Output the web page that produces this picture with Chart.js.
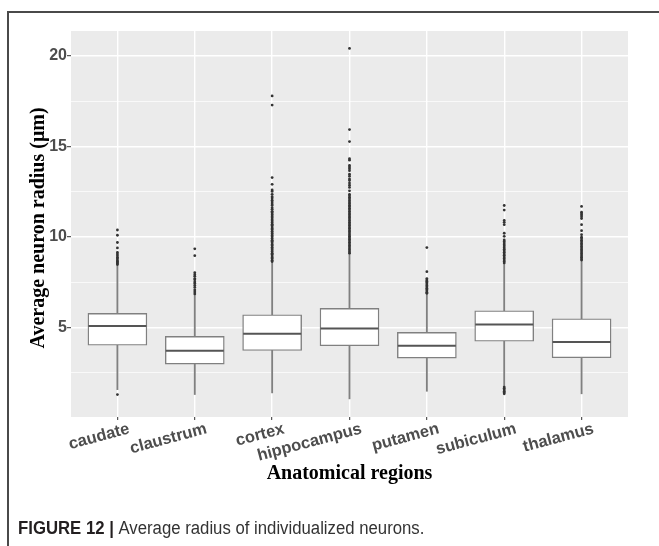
<!DOCTYPE html>
<html>
<head>
<meta charset="utf-8">
<script src="https://cdn.jsdelivr.net/npm/chart.js@4"></script>
<style>
html,body{margin:0;padding:0;background:#fff;}
#wrap{position:relative;width:659px;height:546px;}
</style>
</head>
<body>
<div id="wrap"><canvas id="c"></canvas></div>
<script>
// ---------- data ----------
const categories = ['caudate','claustrum','cortex','hippocampus','putamen','subiculum','thalamus'];
const whiskerLow  = [1.58, 1.31, 1.40, 1.07, 1.49, 1.77, 1.35];
const q1          = [4.03, 2.99, 3.74, 4.00, 3.32, 4.25, 3.34];
const median      = [5.09, 3.72, 4.67, 4.95, 4.00, 5.18, 4.21];
const q3          = [5.79, 4.52, 5.71, 6.06, 4.74, 5.93, 5.49];
const whiskerHigh = [8.44, 6.79, 8.62, 9.08, 6.88, 8.53, 8.71];

const caudateOut = [10.39, 10.10, 9.70, 9.40, 9.15, 9.06, 8.97, 8.88, 8.81, 8.73, 8.67, 8.60, 8.54, 8.48, 1.31];
const claustrumOut = [9.35, 8.97, 8.03, 7.92, 7.83, 7.71, 7.64, 7.52, 7.44, 7.33, 7.22, 7.08, 6.97, 6.86];
const cortexOut = [17.79, 17.28, 13.28, 12.91, 12.60, 12.52, 12.36, 12.23, 12.15, 12.03, 11.94, 11.83, 11.74, 11.61, 11.53, 11.42,
  11.36, 11.27, 11.21, 11.12, 11.05, 10.95, 10.89, 10.80, 10.71, 10.65, 10.56, 10.47, 10.41, 10.32, 10.23, 10.17, 10.08,
  10.01, 9.92, 9.83, 9.77, 9.68, 9.59, 9.53, 9.44, 9.35, 9.29, 9.20, 9.11, 9.05, 8.96, 8.87, 8.81, 8.72, 8.65];
const hippocampusOut = [20.41, 15.93, 15.27, 14.32, 14.24, 13.95, 13.86, 13.77, 13.66, 13.47, 13.36, 13.21, 13.12, 12.98,
  12.86, 12.74, 12.55, 12.36, 12.28, 12.19, 12.11, 12.02, 11.93, 11.85, 11.76, 11.68, 11.59, 11.51, 11.42, 11.33, 11.25,
  11.16, 11.08, 10.99, 10.91, 10.82, 10.73, 10.65, 10.56, 10.48, 10.39, 10.31, 10.22, 10.13, 10.05, 9.96, 9.88, 9.79,
  9.71, 9.62, 9.53, 9.45, 9.36, 9.28, 9.19, 9.11];
const putamenOut = [9.42, 8.09, 7.71, 7.63, 7.56, 7.49, 7.41, 7.33, 7.26, 7.18, 7.11, 7.03, 6.96, 6.90];
const subiculumOut = [11.74, 11.49, 10.92, 10.81, 10.68, 10.21, 10.04, 9.84, 9.76, 9.67, 9.58, 9.50, 9.41, 9.33, 9.24,
  9.16, 9.07, 8.99, 8.90, 8.82, 8.73, 8.65, 8.57, 1.72, 1.65, 1.57, 1.49, 1.42, 1.35];
const thalamusOut = [11.69, 11.37, 11.29, 11.21, 11.12, 11.02, 10.68, 10.35, 10.13, 9.99, 9.91, 9.82, 9.74, 9.65, 9.57,
  9.48, 9.40, 9.31, 9.23, 9.14, 9.06, 8.97, 8.89, 8.80, 8.73];
const outliers = [caudateOut, claustrumOut, cortexOut, hippocampusOut, putamenOut, subiculumOut, thalamusOut];

const yTicks = [2.5, 5, 7.5, 10, 12.5, 15, 17.5, 20];
const yLabelTicks = [5, 10, 15, 20];

const xTitle = 'Anatomical regions';
const yTitle = 'Average neuron radius (\u03bcm)';
const captionBold = 'FIGURE 12 | ';
const captionText = 'Average radius of individualized neurons.';

// ---------- chart ----------
const panelBg = {
  id: 'panelBg',
  beforeDraw(chart) {
    const {ctx, chartArea: a} = chart;
    ctx.save();
    ctx.fillStyle = '#ebebeb';
    ctx.fillRect(a.left, a.top, a.right - a.left, a.bottom - a.top);
    ctx.restore();
  }
};

const decorations = {
  id: 'decorations',
  afterDraw(chart) {
    const {ctx, chartArea: a} = chart;
    const xs = chart.scales.x;
    ctx.save();
    // x tick labels, rotated 15 degrees
    ctx.font = 'bold 16.5px "Liberation Sans", Arial, sans-serif';
    ctx.fillStyle = '#4d4d4d';
    ctx.textAlign = 'right';
    ctx.textBaseline = 'alphabetic';
    categories.forEach((c, i) => {
      const px = xs.getPixelForValue(i);
      ctx.save();
      ctx.translate(px + 13, a.bottom + 16);
      ctx.rotate(-15 * Math.PI / 180);
      ctx.fillText(c, 0, 0);
      ctx.restore();
    });
    // axis titles
    ctx.fillStyle = '#000';
    ctx.font = 'bold 20px "Liberation Serif", "Times New Roman", serif';
    ctx.textAlign = 'center';
    ctx.fillText(xTitle, (a.left + a.right) / 2, 479);
    ctx.save();
    ctx.translate(44, (a.top + a.bottom) / 2 + 4);
    ctx.rotate(-Math.PI / 2);
    ctx.fillText(yTitle, 0, 0);
    ctx.restore();
    // caption
    ctx.save();
    ctx.translate(18, 534);
    ctx.scale(0.93, 1);
    ctx.textAlign = 'left';
    ctx.font = 'bold 18px "Liberation Sans", Arial, sans-serif';
    ctx.fillStyle = '#231f20';
    ctx.fillText(captionBold, 0, 0);
    const w = ctx.measureText(captionBold).width;
    ctx.font = '18px "Liberation Sans", Arial, sans-serif';
    ctx.fillStyle = '#333';
    ctx.fillText(captionText, w, 0);
    ctx.restore();
    // frame
    ctx.strokeStyle = '#4a4a4a';
    ctx.lineWidth = 2;
    ctx.beginPath();
    ctx.moveTo(659, 12);
    ctx.lineTo(8, 12);
    ctx.lineTo(8, 546);
    ctx.stroke();
    ctx.restore();
  }
};

const boxWidthPx = 59;

new Chart(document.getElementById('c'), {
  type: 'bar',
  data: {
    datasets: [
      {
        label: 'whiskers',
        data: categories.map((c, i) => ({x: i, y: [whiskerLow[i], whiskerHigh[i]]})),
        backgroundColor: '#808080',
        borderWidth: 0,
        barThickness: 1.2,
        grouped: false,
        order: 4
      },
      {
        label: 'boxes',
        data: categories.map((c, i) => ({x: i, y: [q1[i], q3[i]]})),
        backgroundColor: '#ffffff',
        borderColor: '#808080',
        borderWidth: 1.4,
        borderSkipped: false,
        barThickness: boxWidthPx,
        grouped: false,
        order: 3
      },
      {
        type: 'scatter',
        label: 'median',
        data: categories.map((c, i) => ({x: i, y: median[i]})),
        pointStyle: 'line',
        radius: boxWidthPx / 2 - 0.5,
        borderColor: '#555555',
        borderWidth: 2,
        order: 2
      },
      {
        type: 'scatter',
        label: 'outliers',
        data: outliers.flatMap((arr, i) => arr.map(v => ({x: i, y: v}))),
        pointStyle: 'circle',
        radius: 1.4,
        backgroundColor: '#333333',
        borderWidth: 0,
        order: 1
      }
    ]
  },
  options: {
    responsive: true,
    maintainAspectRatio: false,
    animation: false,
    events: [],
    layout: {padding: {left: 0, top: 29, right: 22, bottom: 0}},
    plugins: {legend: {display: false}, tooltip: {enabled: false}},
    scales: {
      x: {
        type: 'linear',
        offset: false,
        min: -0.6,
        max: 6.6,
        afterBuildTicks: s => { s.ticks = categories.map((c, i) => ({value: i})); },
        afterFit: s => { s.height = 129; },
        ticks: {display: false},
        border: {display: false},
        grid: {offset: false, color: '#ffffff', lineWidth: 1.4, drawTicks: true, tickLength: 3, tickColor: '#333333', tickWidth: 1}
      },
      y: {
        type: 'linear',
        min: 0.07,
        max: 21.37,
        afterBuildTicks: s => { s.ticks = yTicks.map(v => ({value: v})); },
        afterFit: s => { s.width = 71; },
        ticks: {
          callback: v => yLabelTicks.includes(v) ? String(v) : '',
          font: {family: '"Liberation Sans", Arial, sans-serif', weight: 'bold', size: 16},
          color: '#4d4d4d',
          padding: 0
        },
        border: {display: false},
        grid: {
          color: '#ffffff',
          lineWidth: c => yLabelTicks.includes(c.tick.value) ? 1.4 : 0.7,
          tickLength: 4,
          tickColor: c => yLabelTicks.includes(c.tick.value) ? '#333333' : 'rgba(0,0,0,0)',
          tickWidth: 1
        }
      }
    }
  },
  plugins: [panelBg, decorations]
});
</script>
</body>
</html>
